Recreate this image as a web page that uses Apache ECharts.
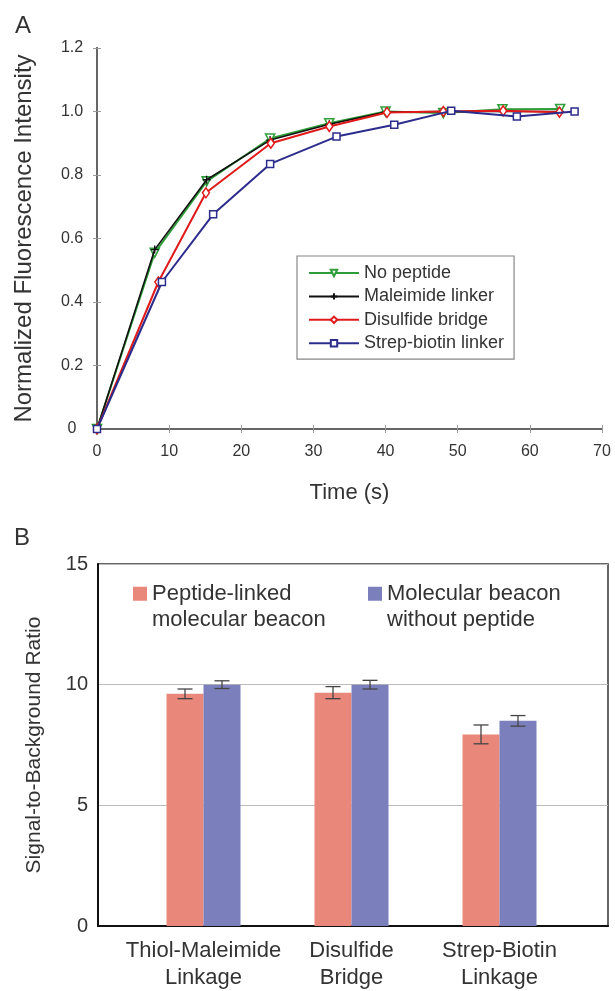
<!DOCTYPE html>
<html>
<head>
<meta charset="utf-8">
<script src="https://cdn.jsdelivr.net/npm/echarts@6/dist/echarts.min.js"></script>
<style>
html,body{margin:0;padding:0;background:#fff;}
#chart{width:615px;height:991px;}
</style>
</head>
<body>
<div id="chart"></div>
<script>
// ---- Panel A data ----
const noPeptideT   = [0, 8, 15.2, 24, 32.2, 40, 48, 56.2, 64.2];
const noPeptideY   = [0, 0.555, 0.78, 0.915, 0.963, 1.0, 0.995, 1.007, 1.008];
const maleimideT   = [0, 8, 15.2, 24, 32.2, 40, 48, 56.2, 64.2];
const maleimideY   = [0, 0.565, 0.785, 0.91, 0.96, 0.998, 1.0, 1.0, 1.0];
const disulfideT   = [0, 8.5, 15.1, 24.1, 32.2, 40.2, 48, 56.3, 64.1];
const disulfideY   = [0, 0.463, 0.744, 0.9, 0.953, 0.997, 1.0, 1.002, 0.998];
const strepT       = [0, 9, 16.1, 24, 33.2, 41.2, 49.1, 58.2, 66.2];
const strepY       = [0, 0.463, 0.676, 0.835, 0.921, 0.958, 1.002, 0.984, 1.0];
const seriesNamesA = ['No peptide', 'Maleimide linker', 'Disulfide bridge', 'Strep-biotin linker'];

// ---- Panel B data ----
const categoriesB   = ['Thiol-Maleimide\nLinkage', 'Disulfide\nBridge', 'Strep-Biotin\nLinkage'];
const peptideLinked = [9.62, 9.67, 7.94];
const peptideErr    = [0.2, 0.25, 0.39];
const noPeptideB    = [10.0, 10.0, 8.5];
const noPeptideErr  = [0.16, 0.18, 0.22];
const seriesNamesB  = ['Peptide-linked molecular beacon', 'Molecular beacon without peptide'];
const legendLinesB  = [['Peptide-linked', 'molecular beacon'], ['Molecular beacon', 'without peptide']];

const FONT = 'Liberation Sans, Arial, Helvetica, sans-serif';
const TXT = '#333';
const zip = (a, b) => a.map((v, i) => [v, b[i]]);
const plusPath = 'path://M5,0 L5,10 M0,5 L10,5 Z';

const chart = echarts.init(document.getElementById('chart'), null, {renderer: 'canvas'});

function errItem(offset) {
  return function (params, api) {
    const cat = api.value(0), val = api.value(1), err = api.value(2);
    const top = api.coord([cat, val + err]);
    const bot = api.coord([cat, val - err]);
    const x = top[0] + offset;
    const half = 7.5;
    const st = {stroke: '#444', lineWidth: 1.3};
    return {
      type: 'group',
      children: [
        {type: 'line', shape: {x1: x, y1: top[1], x2: x, y2: bot[1]}, style: st},
        {type: 'line', shape: {x1: x - half, y1: top[1], x2: x + half, y2: top[1]}, style: st},
        {type: 'line', shape: {x1: x - half, y1: bot[1], x2: x + half, y2: bot[1]}, style: st}
      ]
    };
  };
}

const axisLineA = {show: true, lineStyle: {color: '#666', width: 2}};
const legendTextB = {fontFamily: FONT, fontSize: 22, color: TXT, lineHeight: 26.5};

const option = {
  animation: false,
  backgroundColor: '#fff',
  textStyle: {fontFamily: FONT},
  graphic: [
    {type: 'text', left: 15, top: 14, style: {text: 'A', fontSize: 24, fontFamily: FONT, fill: TXT}},
    {type: 'text', left: 14, top: 526, style: {text: 'B', fontSize: 24, fontFamily: FONT, fill: TXT}}
  ],
  legend: [
    {
      data: seriesNamesA,
      orient: 'vertical',
      left: 297, top: 256,
      itemWidth: 50, itemHeight: 8, itemGap: 5.4,
      padding: [8, 10, 7, 11],
      borderColor: '#888', borderWidth: 1.2, backgroundColor: '#fff',
      textStyle: {fontFamily: FONT, fontSize: 18, color: TXT, lineHeight: 18}
    },
    {
      data: [seriesNamesB[0]], left: 133, top: 554, padding: 0,
      icon: 'rect', itemWidth: 14, itemHeight: 14,
      formatter: () => '\n' + legendLinesB[0].join('\n'),
      textStyle: legendTextB
    },
    {
      data: [seriesNamesB[1]], left: 368, top: 554, padding: 0,
      icon: 'rect', itemWidth: 14, itemHeight: 14,
      formatter: () => '\n' + legendLinesB[1].join('\n'),
      textStyle: legendTextB
    }
  ],
  grid: [
    {left: 97, right: 13, top: 48, bottom: 562},
    {left: 98, right: 7, top: 564, bottom: 65, show: true, borderColor: '#333', borderWidth: 1.5, backgroundColor: 'transparent'},
    {left: 129.5, width: 444, top: 564, bottom: 65}
  ],
  xAxis: [
    {
      gridIndex: 0, type: 'value', min: 0, max: 70, interval: 10,
      axisLine: axisLineA, axisTick: {show: true, inside: true, length: 4, lineStyle: {color: '#999'}},
      splitLine: {show: false},
      axisLabel: {fontSize: 16, color: TXT, margin: 15},
      name: 'Time (s)', nameLocation: 'middle', nameGap: 53,
      nameTextStyle: {fontSize: 22, color: TXT}
    },
    {
      gridIndex: 0, type: 'value', position: 'top', min: 0, max: 70, interval: 10,
      axisLine: axisLineA, axisTick: {show: true, inside: true, length: 4, lineStyle: {color: '#999'}},
      axisLabel: {show: false}, splitLine: {show: false}
    },
    {
      gridIndex: 1, type: 'value', min: 0, max: 1,
      axisLine: {show: true, lineStyle: {color: '#111', width: 2}},
      axisTick: {show: false}, axisLabel: {show: false}, splitLine: {show: false}
    },
    {
      gridIndex: 2, type: 'category', data: categoriesB,
      axisLine: {show: false}, axisTick: {show: false},
      axisLabel: {fontSize: 22, color: TXT, lineHeight: 26.5, margin: 12, interval: 0}
    }
  ],
  yAxis: [
    {
      gridIndex: 0, type: 'value', min: 0, max: 1.2, interval: 0.2,
      axisLine: axisLineA, axisTick: {show: true, inside: true, length: 4, lineStyle: {color: '#999'}},
      splitLine: {show: false},
      axisLabel: {fontSize: 16, color: TXT, align: 'center', margin: 25,
        formatter: v => (v === 0 ? '0' : v.toFixed(1))},
      name: 'Normalized Fluorescence Intensity', nameLocation: 'middle', nameGap: 61,
      nameTextStyle: {fontSize: 24, color: TXT}
    },
    {
      gridIndex: 0, type: 'value', position: 'right', min: 0, max: 1.2, interval: 0.2,
      axisLine: axisLineA, axisTick: {show: true, inside: true, length: 4, lineStyle: {color: '#999'}},
      axisLabel: {show: false}, splitLine: {show: false}
    },
    {
      gridIndex: 1, type: 'value', min: 0, max: 15, interval: 5,
      axisLine: {show: true, lineStyle: {color: '#111', width: 2}},
      axisTick: {show: false},
      splitLine: {show: true, lineStyle: {color: '#bbb', width: 1}},
      axisLabel: {fontSize: 20, color: TXT, margin: 10},
      name: 'Signal-to-Background Ratio', nameLocation: 'middle', nameGap: 53,
      nameTextStyle: {fontSize: 21, color: TXT}
    },
    {
      gridIndex: 2, type: 'value', min: 0, max: 15, interval: 5, show: false
    }
  ],
  series: [
    {
      name: seriesNamesA[0], type: 'line', xAxisIndex: 0, yAxisIndex: 0,
      data: zip(noPeptideT, noPeptideY),
      symbol: 'triangle', symbolRotate: 180, symbolSize: 9,
      lineStyle: {color: '#2f9e3a', width: 2},
      itemStyle: {color: '#fff', borderColor: '#2f9e3a', borderWidth: 1.6},
      z: 2
    },
    {
      name: seriesNamesA[1], type: 'line', xAxisIndex: 0, yAxisIndex: 0,
      data: zip(maleimideT, maleimideY),
      symbol: plusPath, symbolSize: 8,
      lineStyle: {color: '#111', width: 1.6},
      itemStyle: {color: '#111', borderColor: '#111', borderWidth: 1.4},
      z: 3
    },
    {
      name: seriesNamesA[2], type: 'line', xAxisIndex: 0, yAxisIndex: 0,
      data: zip(disulfideT, disulfideY),
      symbol: 'diamond', symbolSize: [7, 10],
      lineStyle: {color: '#e01a1a', width: 2},
      itemStyle: {color: '#fff', borderColor: '#e01a1a', borderWidth: 1.5},
      z: 4
    },
    {
      name: seriesNamesA[3], type: 'line', xAxisIndex: 0, yAxisIndex: 0,
      data: zip(strepT, strepY),
      symbol: 'rect', symbolSize: 7,
      lineStyle: {color: '#2c2c8c', width: 2},
      itemStyle: {color: '#fff', borderColor: '#2c2c8c', borderWidth: 1.5},
      z: 5
    },
    {
      name: seriesNamesB[0], type: 'bar', xAxisIndex: 3, yAxisIndex: 3,
      data: peptideLinked, barWidth: 37, barGap: '0%',
      itemStyle: {color: '#e8877a'}, z: 3
    },
    {
      name: seriesNamesB[1], type: 'bar', xAxisIndex: 3, yAxisIndex: 3,
      data: noPeptideB, barWidth: 37, barGap: '0%',
      itemStyle: {color: '#7b7fbc'}, z: 3
    },
    {
      type: 'custom', xAxisIndex: 3, yAxisIndex: 3, z: 5,
      data: peptideLinked.map((v, i) => [i, v, peptideErr[i]]),
      renderItem: errItem(-18.5)
    },
    {
      type: 'custom', xAxisIndex: 3, yAxisIndex: 3, z: 5,
      data: noPeptideB.map((v, i) => [i, v, noPeptideErr[i]]),
      renderItem: errItem(18.5)
    }
  ]
};
chart.setOption(option);
</script>
</body>
</html>
